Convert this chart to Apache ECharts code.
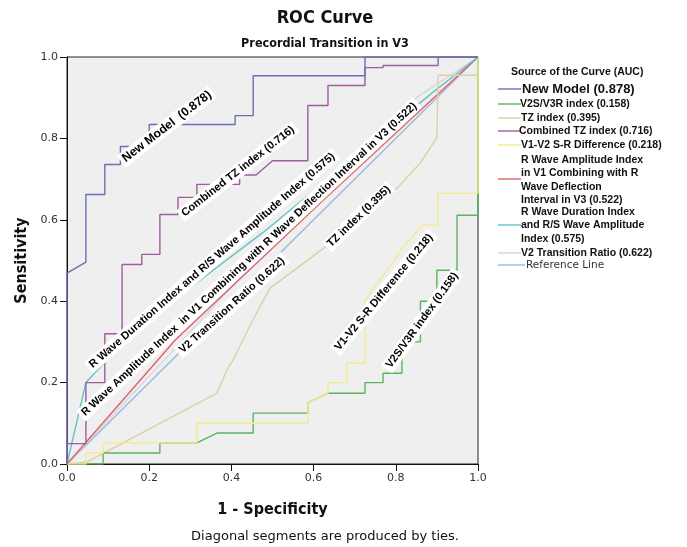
<!DOCTYPE html>
<html><head><meta charset="utf-8">
<script src="https://cdn.jsdelivr.net/npm/echarts@6/dist/echarts.min.js"></script>
<style>html,body{margin:0;padding:0;background:#fff}#c{width:687px;height:547px}</style>
</head><body><div id="c"></div>
<script>
// ---- data ----
const seriesNames = ['New Model', 'V2S/V3R index', 'TZ index', 'Combined TZ index', 'V1-V2 S-R Difference',
  'R Wave Amplitude Index in V1 Combining with R Wave Deflection Interval in V3',
  'R Wave Duration Index and R/S Wave Amplitude Index', 'V2 Transition Ratio', 'Reference Line'];
const aucValues = ['0.878', '0.158', '0.395', '0.716', '0.218', '0.522', '0.575', '0.622', ''];
const legendLabels = ['New Model (0.878)', 'V2S/V3R index (0.158)', 'TZ index (0.395)', 'Combined TZ index (0.716)',
  'V1-V2 S-R Difference (0.218)', 'R Wave Amplitude Index\nin V1 Combining with R\nWave Deflection\nInterval in V3 (0.522)',
  'R Wave Duration Index\nand R/S Wave Amplitude\nIndex (0.575)', 'V2 Transition Ratio (0.622)', 'Reference Line'];
const axisTicks = [0, 0.2, 0.4, 0.6, 0.8, 1.0];

const newModel = [[0,0],[0,0.469],[0.046,0.496],[0.046,0.662],[0.092,0.662],[0.092,0.736],[0.13,0.736],[0.13,0.78],[0.2,0.78],[0.2,0.834],[0.409,0.834],[0.409,0.856],[0.453,0.856],[0.453,0.954],[0.725,0.954],[0.725,1],[1,1]];
const v2sV3r = [[0,0],[0.088,0],[0.088,0.027],[0.226,0.027],[0.226,0.052],[0.316,0.052],[0.365,0.076],[0.453,0.076],[0.453,0.125],[0.586,0.125],[0.586,0.15],[0.635,0.174],[0.725,0.174],[0.725,0.2],[0.769,0.2],[0.769,0.223],[0.815,0.223],[0.815,0.30],[0.86,0.30],[0.86,0.40],[0.90,0.40],[0.90,0.476],[0.949,0.476],[0.949,0.611],[1,0.611],[1,1]];
const tzIndex = [[0,0],[0.049,0.005],[0.365,0.174],[0.389,0.231],[0.404,0.255],[0.45,0.35],[0.494,0.432],[0.628,0.533],[0.72,0.60],[0.805,0.68],[0.86,0.74],[0.9,0.802],[0.903,0.955],[1,0.955],[1,1]];
const combinedTz = [[0,0],[0,0.05],[0.046,0.05],[0.046,0.2],[0.092,0.2],[0.092,0.32],[0.134,0.32],[0.134,0.49],[0.182,0.49],[0.182,0.515],[0.226,0.515],[0.226,0.613],[0.27,0.613],[0.27,0.655],[0.316,0.655],[0.316,0.687],[0.343,0.687],[0.42,0.687],[0.42,0.71],[0.46,0.71],[0.50,0.745],[0.586,0.745],[0.586,0.881],[0.635,0.881],[0.635,0.93],[0.725,0.93],[0.725,0.974],[0.769,0.974],[0.769,0.979],[0.903,0.979],[0.903,1],[1,1]];
const v1v2Diff = [[0,0],[0.046,0],[0.046,0.027],[0.088,0.027],[0.088,0.052],[0.316,0.052],[0.316,0.1],[0.586,0.1],[0.586,0.15],[0.635,0.174],[0.635,0.2],[0.681,0.2],[0.681,0.248],[0.725,0.248],[0.725,0.402],[0.774,0.469],[0.818,0.533],[0.866,0.587],[0.903,0.587],[0.903,0.665],[1,0.665],[1,1]];
const rAmpIndex = [[0,0],[0.263,0.304],[0.62,0.645],[1,1]];
const rDurIndex = [[0,0],[0.046,0.2],[0.17,0.334],[0.477,0.569],[0.89,0.913],[1,1]];
const v2Transition = [[0,0],[0.25,0.27],[0.55,0.6],[0.85,0.9],[1,1]];
const refLine = [[0,0],[1,1]];

// curve label anchors: [fpr, sensitivity] and angle in degrees
const curveLabelText = ['New Model  (0.878)', 'Combined TZ index (0.716)',
  'R Wave Duration Index and R/S Wave Amplitude Index (0.575)',
  'R Wave Amplitude Index  in V1 Combining with R Wave Deflection Interval in V3 (0.522)',
  'V2 Transition Ratio (0.622)', 'TZ index (0.395)', 'V1-V2 S-R Difference (0.218)', 'V2S/V3R index (0.158)'];
const curveLabelAt = [[0.243,0.829],[0.416,0.719],[0.353,0.50],[0.443,0.503],[0.401,0.39],[0.71,0.608],[0.771,0.422],[0.864,0.353]];
const curveLabelAngle = [37.5, 38, 41, 43, 42, 44, 50.5, 54];

// ---- chart ----
const colors = ['#6a70b8', '#5cb460', '#d8d2a6', '#a05ca2', '#f3ec8a', '#e0606c', '#62c4c8', '#d6d6dc', '#9bb8de'];
const dataList = [newModel, v2sV3r, tzIndex, combinedTz, v1v2Diff, rAmpIndex, rDurIndex, v2Transition, refLine];
const drawOrder = [8, 7, 5, 6, 2, 1, 4, 3, 0];

const chart = echarts.init(document.getElementById('c'), null, {renderer: 'canvas'});
const font = 'DejaVu Sans, Liberation Sans, sans-serif';
const axisCommon = {
  type: 'value', min: 0, max: 1, interval: 0.2,
  axisLine: {show: true, lineStyle: {color: '#111', width: 1}},
  axisTick: {show: true, length: 7, lineStyle: {color: '#111'}},
  axisLabel: {color: '#333', fontSize: 11, fontFamily: font, margin: 9, formatter: v => v.toFixed(1)},
  splitLine: {show: false},
  nameLocation: 'middle',
  nameTextStyle: {color: '#111', fontSize: 16, fontWeight: 'bold', fontFamily: 'DejaVu Sans Condensed, DejaVu Sans, sans-serif'}
};

const series = drawOrder.map(i => ({
  name: seriesNames[i], type: 'line', data: dataList[i], showSymbol: false, symbol: 'none',
  lineStyle: {color: colors[i], width: 1.4}, animation: false, z: 2
}));

chart.setOption({
  animation: false,
  grid: {left: 67, top: 57, width: 411, height: 407, show: true, backgroundColor: '#efefef', borderColor: '#222', borderWidth: 1},
  xAxis: Object.assign({}, axisCommon, {name: '1 - Specificity', nameGap: 38}),
  yAxis: Object.assign({}, axisCommon, {name: 'Sensitivity', nameGap: 36}),
  series: series
});

const g = [];
// titles
g.push({type: 'text', x: 325, y: 18, style: {text: 'ROC Curve', align: 'center', verticalAlign: 'middle', font: 'bold 18px "DejaVu Sans Condensed", "DejaVu Sans", sans-serif', fill: '#111'}});
g.push({type: 'text', x: 325, y: 44, style: {text: 'Precordial Transition in V3', align: 'center', verticalAlign: 'middle', font: 'bold 12.5px "DejaVu Sans Condensed", "DejaVu Sans", sans-serif', fill: '#111'}});
g.push({type: 'text', x: 325, y: 537, style: {text: 'Diagonal segments are produced by ties.', align: 'center', verticalAlign: 'middle', font: '13px "DejaVu Sans", sans-serif', fill: '#111'}});

// curve labels
curveLabelText.forEach((t, k) => {
  const p = chart.convertToPixel({gridIndex: 0}, curveLabelAt[k]);
  g.push({type: 'text', x: p[0], y: p[1], rotation: curveLabelAngle[k] * Math.PI / 180, z: 50,
    style: {text: t, align: 'center', verticalAlign: 'middle', font: 'bold ' + (k === 0 ? 12.2 : 11) + 'px "Liberation Sans", Arial, sans-serif',
      fill: '#000', backgroundColor: '#fff', padding: [2, 3, 1, 3]}});
});

// legend
g.push({type: 'text', x: 511, y: 72, style: {text: 'Source of the Curve (AUC)', align: 'left', verticalAlign: 'middle', font: 'bold 10.5px "Liberation Sans", Arial, sans-serif', fill: '#111'}});
const legY = [89, 104, 118, 131, 145, 179, 225, 253, 265];
const legTextY = [89, 104, 118, 131, 145, 160, 212, 253, 265];
const legTextX = [522, 520, 521, 519, 521, 521, 521, 521, 526];
const lh = 13.5;
legendLabels.forEach((t, i) => {
  g.push({type: 'line', shape: {x1: 498, y1: legY[i], x2: i === 8 ? 525 : 521, y2: legY[i]}, style: {stroke: colors[i], lineWidth: 1.4}});
  g.push({type: 'text', x: legTextX[i], y: legTextY[i] - lh / 2, z: i === 6 ? 5 : 3, style: {text: t, align: 'left', verticalAlign: 'top', lineHeight: lh,
    font: (i === 8 ? '' : 'bold ') + (i === 0 ? '13px' : '10.5px') + (i === 8 ? ' "DejaVu Sans", sans-serif' : ' "Liberation Sans", Arial, sans-serif'),
    fill: i === 8 ? '#333' : '#111', backgroundColor: i === 6 ? '#fff' : 'transparent'}});
});
chart.setOption({graphic: {elements: g}});
</script>
</body></html>
